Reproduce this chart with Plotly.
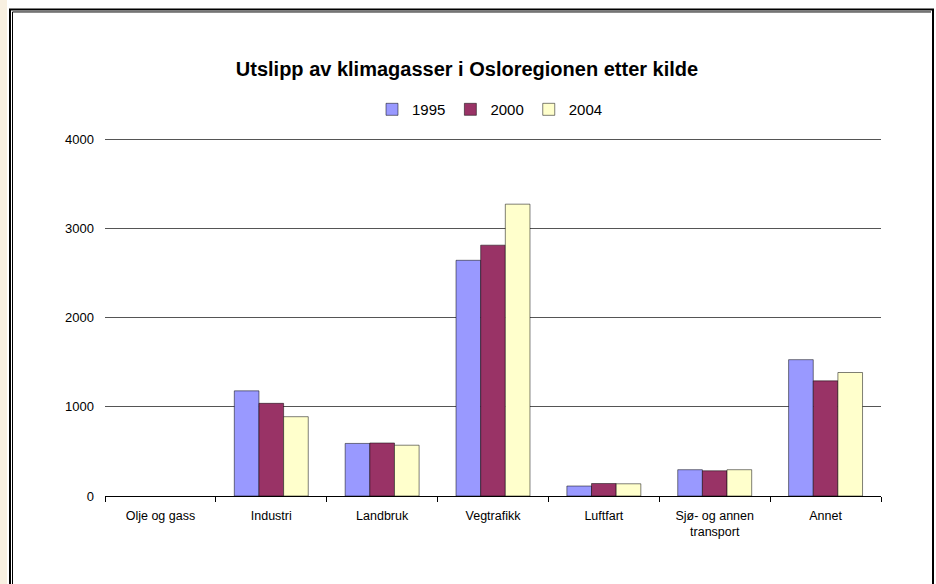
import plotly.graph_objects as go

# emissions by source, Oslo region
categories = [
    "Olje og gass",
    "Industri",
    "Landbruk",
    "Vegtrafikk",
    "Luftfart",
    "Sjø- og annen<br>transport",
    "Annet",
]
years = ["1995", "2000", "2004"]
values_1995 = [None, 1180, 590, 2645, 112, 295, 1530]
values_2000 = [None, 1040, 595, 2815, 140, 283, 1292]
values_2004 = [None, 890, 570, 3275, 137, 295, 1386]

colors = ["#9999FF", "#993366", "#FFFFCC"]
font_family = "Liberation Sans, Arial, sans-serif"

STRIP = 7  # beige page strip on the left, outside the figure
W, H = 936 - STRIP, 584
# plot area in page pixels (top a bit above the 4000 line so its gridline shows)
L, R, T, B = 105 - STRIP, 881 - STRIP, 136.4, 496
Y_MAX = 4040


def px_x(px):
    # page pixel -> paper coordinate
    return (px - STRIP - L) / (R - L)


def px_y(py):
    return (B - py) / (B - T)


fig = go.Figure()
for year, vals, col in zip(years, [values_1995, values_2000, values_2004], colors):
    fig.add_trace(
        go.Bar(
            name=year,
            x=categories,
            y=vals,
            marker=dict(color=col, line=dict(color="rgba(0,0,0,0.5)", width=1)),
        )
    )

# double frame round the chart
shapes = [
    dict(type="rect", xref="paper", yref="paper",
         x0=px_x(10), x1=px_x(933), y0=px_y(H + 10), y1=px_y(10),
         line=dict(color="black", width=2), layer="below"),
    dict(type="line", xref="paper", yref="paper",
         x0=px_x(12.5), x1=px_x(12.5), y0=px_y(H + 10), y1=px_y(12.5),
         line=dict(color="black", width=1), layer="below"),
    dict(type="line", xref="paper", yref="paper",
         x0=px_x(12.5), x1=px_x(931), y0=px_y(12.5), y1=px_y(12.5),
         line=dict(color="black", width=1), layer="below"),
]

fig.update_layout(
    width=W,
    height=H,
    margin=dict(l=L, r=W - R, t=T, b=H - B, autoexpand=False),
    paper_bgcolor="white",
    plot_bgcolor="white",
    font=dict(family=font_family, color="black", size=12),
    barmode="group",
    bargap=0.333,
    bargroupgap=0,
    title=dict(
        text="<b>Utslipp av klimagasser i Osloregionen etter kilde</b>",
        x=(467 - STRIP) / W,
        xanchor="center",
        y=1 - 69 / H,
        yanchor="middle",
        font=dict(size=20, family=font_family, color="black"),
    ),
    legend=dict(
        orientation="h",
        x=px_x(490),
        xanchor="center",
        y=px_y(110),
        yanchor="middle",
        font=dict(size=15),
        bgcolor="rgba(0,0,0,0)",
    ),
    shapes=shapes,
    xaxis=dict(
        showline=True,
        linecolor="black",
        linewidth=1,
        ticks="outside",
        tickson="boundaries",
        ticklen=5,
        tickcolor="black",
        showgrid=False,
        ticklabelstandoff=8,
        tickfont=dict(size=12.5),
    ),
    yaxis=dict(
        range=[0, Y_MAX],
        tickvals=[0, 1000, 2000, 3000, 4000],
        showgrid=True,
        gridcolor="#555555",
        gridwidth=1,
        zeroline=False,
        showline=False,
        ticks="",
        ticklabelstandoff=10,
        tickfont=dict(size=13),
    ),
)

fig.write_html(
    "out.html",
    config={"displayModeBar": False},
    post_script=(
        "document.body.style.margin='0 0 0 %dpx';"
        "document.body.style.background='#F8F0E1';"
        "document.body.style.overflow='hidden';" % STRIP
    ),
)
